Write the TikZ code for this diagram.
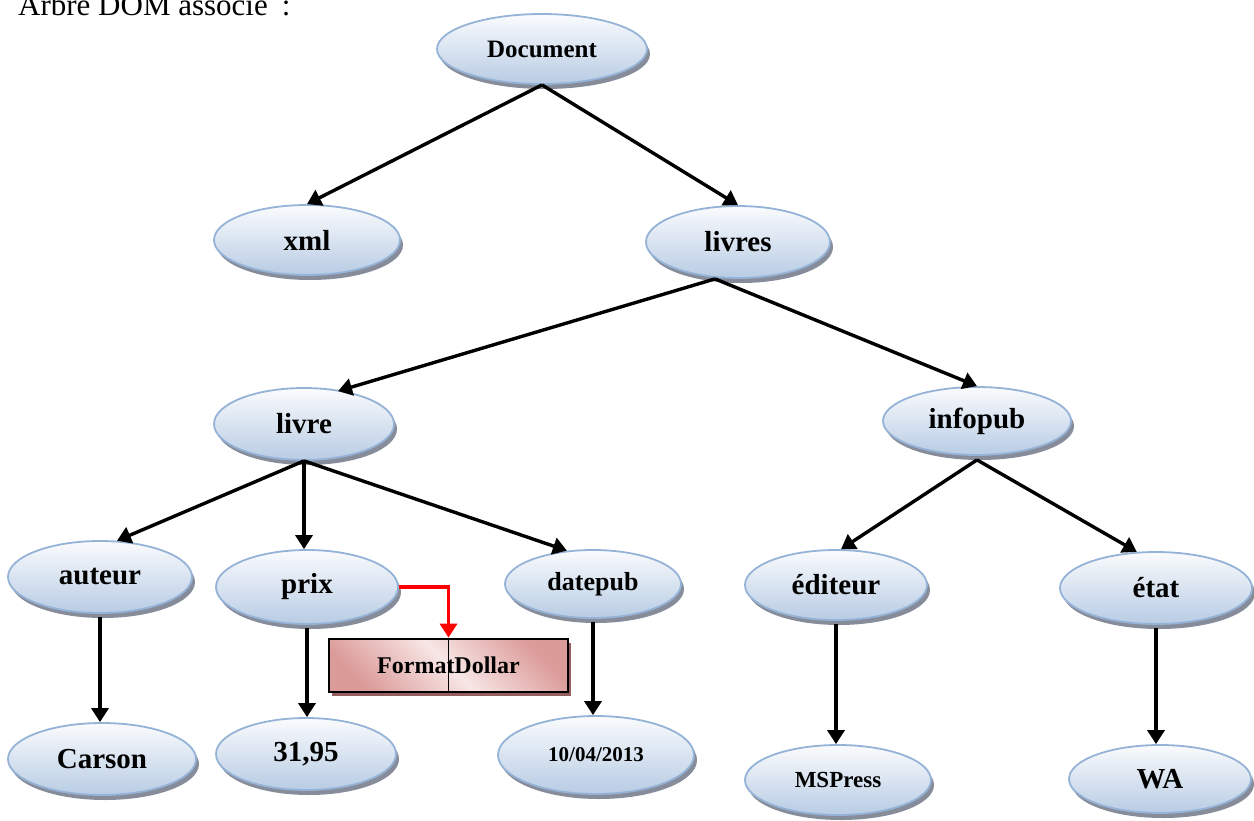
\documentclass[tikz,border=0pt]{standalone}
\usepackage{fontspec}
\setmainfont{Liberation Serif}
\usetikzlibrary{shapes.geometric,arrows.meta,shadows}
\definecolor{topc}{RGB}{250,251,253}
\definecolor{botc}{RGB}{184,204,228}
\definecolor{bord}{RGB}{149,179,215}
\definecolor{shd}{RGB}{135,140,155}
\definecolor{pinkdark}{RGB}{219,155,153}
\definecolor{pinklight}{RGB}{247,230,229}
\definecolor{bshd}{RGB}{150,95,95}
\begin{document}
\begin{tikzpicture}[x=1pt,y=-1pt,
  nd/.style={ellipse, draw=bord, line width=1.8pt, top color=topc, bottom color=botc,
    inner sep=0pt, font=\bfseries\fontsize{29}{34}\selectfont,
    drop shadow={shadow xshift=3pt, shadow yshift=-5pt, fill=shd, opacity=1}},
  arr/.style={line width=3.4pt, -{Triangle[length=14pt,width=17pt]}},
]
\useasboundingbox (0,0) rectangle (1254,820);

\node[anchor=base west, inner sep=0pt, font=\fontsize{31}{36}\selectfont] (title) at (18,15) {Arbre DOM associé\hspace{14pt}:};

\node[nd, minimum width=210pt, minimum height=70pt, font=\bfseries\fontsize{25}{30}\selectfont] (doc) at (542,49) {Document};
\node[nd, minimum width=186pt, minimum height=70pt] (xml) at (307,240) {xml};
\node[nd, minimum width=184pt, minimum height=72pt] (livres) at (738,242) {livres};
\node[nd, minimum width=180pt, minimum height=72pt] (livre) at (304,424) {livre};
\node[nd, minimum width=188pt, minimum height=68pt] (infopub) at (977,421) {infopub};
\node[nd, minimum width=184pt, minimum height=72pt] (auteur) at (100,577) {auteur};
\node[nd, minimum width=182pt, minimum height=74pt] (prix) at (307,587) {prix};
\node[nd, minimum width=176pt, minimum height=68pt, font=\bfseries\fontsize{26}{30}\selectfont] (datepub) at (593,584) {datepub};
\node[nd, minimum width=182pt, minimum height=70pt] (edit) at (836,585) {éditeur};
\node[nd, minimum width=192pt, minimum height=72pt] (etat) at (1156,588) {état};
\node[nd, minimum width=188pt, minimum height=72pt] (carson) at (102,759) {Carson};
\node[nd, minimum width=180pt, minimum height=72pt] (prixval) at (306,754) {31,95};
\node[nd, minimum width=196pt, minimum height=78pt, font=\bfseries\fontsize{21}{25}\selectfont] (date) at (596,755) {10/04/2013};
\node[nd, minimum width=186pt, minimum height=70pt, font=\bfseries\fontsize{23}{27}\selectfont] (mspress) at (838,780) {MSPress};
\node[nd, minimum width=182pt, minimum height=68pt] (wa) at (1160,779) {WA};

\node[draw=black, line width=2.8pt, minimum width=239pt, minimum height=53pt, inner sep=0pt,
  left color=pinkdark, right color=pinkdark, middle color=pinklight, shading angle=135,
  font=\bfseries\fontsize{24}{28}\selectfont,
  drop shadow={shadow xshift=3pt, shadow yshift=-4pt, fill=bshd, opacity=1}] (fd) at (448.5,665.5) {FormatDollar};
\draw[line width=1.8pt] (fd.north) -- (fd.south);

\draw[arr] (doc.south) -- (xml.north);
\draw[arr] (doc.south) -- (livres.north);
\draw[arr] ([xshift=-23pt]livres.south) -- ([xshift=34pt,yshift=-4pt]livre.north);
\draw[arr] ([xshift=-23pt]livres.south) -- (infopub.north);
\draw[arr] (livre.south) -- (auteur.65);
\draw[arr] (livre.south) -- (livre.south |- prix.north);
\draw[arr] (livre.south) -- (datepub.128);
\draw[arr] ([yshift=-4pt]infopub.south) -- (edit.82);
\draw[arr] ([yshift=-4pt]infopub.south) -- (etat.118);

\draw[arr] ([yshift=-3pt]auteur.south) -- (auteur.south |- carson.north);
\draw[arr] ([yshift=-3pt]prix.south) -- (prix.south |- prixval.north);
\draw[arr] ([yshift=-3pt]datepub.south) -- (datepub.south |- date.north);
\draw[arr] ([yshift=-3pt]edit.south) -- (edit.south |- mspress.north);
\draw[arr] ([yshift=-3pt]etat.south) -- (etat.south |- wa.north);

\draw[line width=3.4pt, red, -{Triangle[length=14pt,width=17pt]}] (prix.east) -| (fd.north);
\end{tikzpicture}
\end{document}
